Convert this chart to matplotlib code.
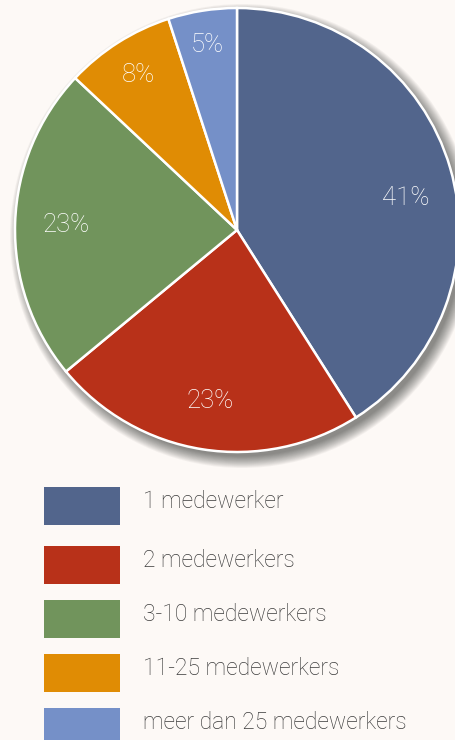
import matplotlib
matplotlib.use("Agg")
import matplotlib.pyplot as plt
from matplotlib.patches import Circle, Rectangle
import numpy as np

categories = ["1 medewerker", "2 medewerkers", "3-10 medewerkers",
              "11-25 medewerkers", "meer dan 25 medewerkers"]
values = [41, 23, 23, 8, 5]
colors = ["#52658c", "#b83119", "#71945c", "#e08c04", "#7590c8"]

BG = "#fdf9f6"
W, H = 456, 740
fig = plt.figure(figsize=(W / 100, H / 100), dpi=100, facecolor=BG)
FONT = ["Roboto", "DejaVu Sans"]

# pie axes: center (237,230) px, radius 222 px
cx, cy, R = 237, 230, 222
ax = fig.add_axes([(cx - R) / W, 1 - (cy + R) / H, 2 * R / W, 2 * R / H])
ax.set_xlim(-1, 1)
ax.set_ylim(-1, 1)
ax.set_aspect("equal")
ax.axis("off")
ax.set_facecolor("none")

# soft shadow
n = 14
for i in range(n):
    r = 1.0 + (10 - i * 0.9) / R
    ax.add_patch(Circle((5 / R, -6 / R), r, facecolor="#000000", alpha=0.04,
                        edgecolor="none", zorder=0, clip_on=False))

wedges, _, autotexts = ax.pie(
    values, colors=colors, startangle=90, counterclock=False, radius=1.0,
    autopct="%d%%", pctdistance=0.8,
    wedgeprops=dict(edgecolor="white", linewidth=1.8),
    textprops=dict(color="white", fontsize=18.5, family=FONT, fontweight="light"),
)
for w in wedges:
    w.set_clip_on(False)
    w.set_zorder(2)

ang_off = [-5.5, 0, 0, 0, 0]
rad = [0.775, 0.78, 0.77, 0.826, 0.844]
for w, t, ao, rr in zip(wedges, autotexts, ang_off, rad):
    mid = np.deg2rad((w.theta1 + w.theta2) / 2 + ao)
    t.set_position((rr * np.cos(mid), rr * np.sin(mid)))
    t.set_ha("center")
    t.set_va("center")
    t.set_zorder(3)
ax.set_xlim(-1, 1)
ax.set_ylim(-1, 1)

# legend drawn in pixel-based overlay axes
lax = fig.add_axes([0, 0, 1, 1])
lax.set_xlim(0, W)
lax.set_ylim(H, 0)
lax.axis("off")
lax.set_facecolor("none")
tops = [487, 546, 600, 654, 708]
for top, lab, col in zip(tops, categories, colors):
    lax.add_patch(Rectangle((44, top), 76, 38, facecolor=col, edgecolor="none"))
    lax.text(143, top + 21, lab, ha="left", va="baseline", fontsize=16.5,
             color="#3b3b3b", family=FONT, fontweight="light")

fig.savefig("out.png", dpi=100, facecolor=BG)
